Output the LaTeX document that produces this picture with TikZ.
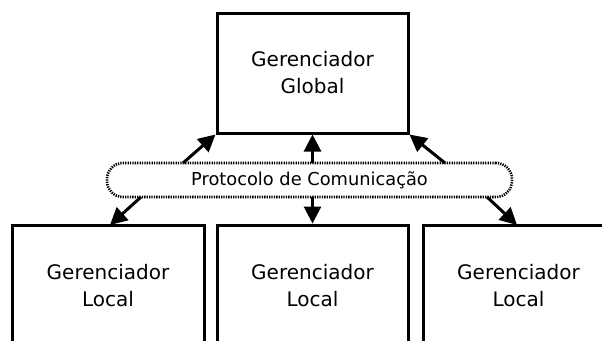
\documentclass[tikz,border=0pt]{standalone}
\usepackage{fontspec}
\setmainfont{DejaVu Sans}
\usetikzlibrary{arrows.meta}
\begin{document}
\begin{tikzpicture}[x=1pt,y=-1pt,
  box/.style={draw=black,line width=3pt,minimum width=#1,align=center,font=\fontsize{20}{27}\selectfont,inner sep=0pt},
  box/.default=191pt,
  pill/.style={draw=black,line width=2.6pt,dash pattern=on 1.3pt off 1.1pt,rounded corners=16pt,minimum width=405pt,minimum height=34pt,inner sep=0pt,font=\fontsize{17.8}{20}\selectfont},
  arr/.style={line width=3pt,-{Triangle[length=17pt,width=17pt]}}]
\useasboundingbox (0,0) rectangle (602,340);
\clip (0,0) rectangle (602,340);
\fill[white] (0,0) rectangle (602,340);
\node[box,minimum height=120pt] (glob) at (312.5,73) {Gerenciador\\Global};
\node[box=192pt,minimum height=122pt] (loc1) at (108,286) {Gerenciador\\Local};
\node[box=191pt,minimum height=122pt] (loc2) at (312.5,286) {Gerenciador\\Local};
\node[box=191pt,minimum height=122pt] (loc3) at (518.5,286) {Gerenciador\\Local};
\node[pill] (proto) at (309.5,180) {Protocolo de Comunicação};
\coordinate (u1) at (183,163);
\coordinate (u2) at (312.5,163);
\coordinate (u3) at (445,163);
\coordinate (d1) at (141,197);
\coordinate (d2) at (312.5,197);
\coordinate (d3) at (487,197);
\coordinate (t1) at (110,225);
\coordinate (t3) at (517,225);
\draw[arr] (u1) -- (glob.south west);
\draw[arr] (u2) -- (glob.south);
\draw[arr] (u3) -- (glob.south east);
\draw[arr] (d1) -- (t1);
\draw[arr] (d2) -- (loc2.north);
\draw[arr] (d3) -- (t3);
\end{tikzpicture}
\end{document}
